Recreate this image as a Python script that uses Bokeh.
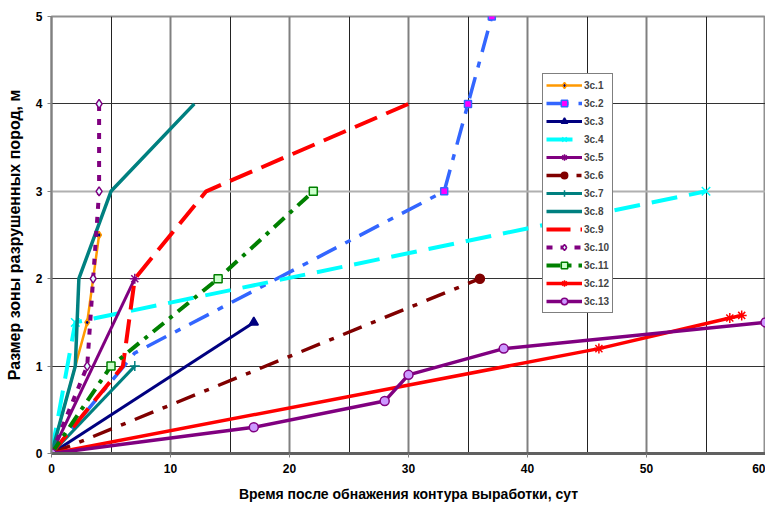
from bokeh.plotting import figure
from bokeh.models import Legend, LegendItem, Grid, FixedTicker, Range1d
from bokeh.embed import file_html
from bokeh.resources import INLINE

# ---- data ----
names = ["3c.1", "3c.2", "3c.3", "3c.4", "3c.5", "3c.6", "3c.7",
         "3c.8", "3c.9", "3c.10", "3c.11", "3c.12", "3c.13"]

x1 = [0, 3, 4];            y1 = [0, 1.5, 2.5]
x2 = [0, 7, 33, 35, 37];   y2 = [0, 1.15, 3, 4, 5]
x3 = [0, 17];              y3 = [0, 1.5]
x4 = [0, 2, 55];           y4 = [0, 1.5, 3]
x5 = [0, 7];               y5 = [0, 2]
x6 = [0, 36];              y6 = [0, 2]
x7 = [0, 7];               y7 = [0, 1]
x8 = [0, 2, 2.3, 5, 12];   y8 = [0, 1, 2, 3, 4]
x9 = [0, 6, 7, 13, 30];    y9 = [0, 1, 2, 3, 4]
x10 = [0, 3, 3.5, 4, 4];   y10 = [0, 1, 2, 3, 4]
x11 = [0, 5, 14, 22];      y11 = [0, 1, 2, 3]
x12 = [0, 46, 57, 58];     y12 = [0, 1.2, 1.55, 1.58]
x13 = [0, 17, 28, 30, 38, 60]; y13 = [0, 0.3, 0.6, 0.9, 1.2, 1.5]

xs = [x1, x2, x3, x4, x5, x6, x7, x8, x9, x10, x11, x12, x13]
ys = [y1, y2, y3, y4, y5, y6, y7, y8, y9, y10, y11, y12, y13]

x_ticks = [0, 10, 20, 30, 40, 50, 60]
y_ticks = [0, 1, 2, 3, 4, 5]

x_label = "Время после обнажения контура выработки, сут"
y_label = "Размер зоны разрушенных пород, м"

# ---- styles ----
styles = [
    dict(color="#FF9900", width=2.5, dash="solid", marker="diamond", msize=7, mfill="#000080", mline="#FF9900"),
    dict(color="#3366FF", width=3.5, dash="22 10 6 10", marker="square", msize=7, mfill="#FF00FF", mline="#3366FF"),
    dict(color="#000080", width=3, dash="solid", marker="triangle", msize=9, mfill="#000080", mline="#000080"),
    dict(color="#00FFFF", width=4, dash="26 12", marker="x", msize=12, mfill="#00FFFF", mline="#00FFFF"),
    dict(color="#800080", width=3, dash="solid", marker="asterisk", msize=10, mfill="#800080", mline="#800080"),
    dict(color="#800000", width=3.5, dash="20 10 5 10", marker="circle", msize=9, mfill="#800000", mline="#800000"),
    dict(color="#008080", width=3, dash="solid", marker="cross", msize=10, mfill="#008080", mline="#008080"),
    dict(color="#008080", width=3.5, dash="solid", marker=None),
    dict(color="#FF0000", width=4, dash="24 10", marker=None),
    dict(color="#800080", width=4, dash="6 8", marker="diamond", msize=9, mfill="#E0FFFF", mline="#800080"),
    dict(color="#008000", width=4, dash="14 7 4 7", marker="square", msize=8, mfill="#CCFFCC", mline="#008000"),
    dict(color="#FF0000", width=3.5, dash="solid", marker="asterisk", msize=10, mfill="#FF0000", mline="#FF0000"),
    dict(color="#800080", width=3.5, dash="solid", marker="circle", msize=9, mfill="#CC99FF", mline="#800080"),
]
no_marker_points = {1: [1]}  # series 3c.2: bend point has no marker

FONT = "Liberation Sans"

p = figure(frame_width=714, frame_height=437, output_backend="svg", toolbar_location=None,
           x_range=Range1d(0, 60), y_range=Range1d(0, 5),
           min_border_left=51, min_border_right=0, min_border_top=16, min_border_bottom=56)

p.xgrid.visible = False
p.ygrid.visible = False
p.background_fill_color = "white"
p.outline_line_color = "#909090"
p.outline_line_width = 2

# grid lines
p.add_layout(Grid(dimension=0, ticker=FixedTicker(ticks=[5, 15, 25, 35, 45, 55]),
                  grid_line_color="#222222", grid_line_width=1))
p.add_layout(Grid(dimension=0, ticker=FixedTicker(ticks=[10, 20, 30, 40, 50]),
                  grid_line_color="#808080", grid_line_width=2))
p.add_layout(Grid(dimension=1, ticker=FixedTicker(ticks=[1, 2, 4]),
                  grid_line_color="#333333", grid_line_width=1))
p.add_layout(Grid(dimension=1, ticker=FixedTicker(ticks=[3]),
                  grid_line_color="#B0B0B0", grid_line_width=2))

# axes
p.xaxis.ticker = FixedTicker(ticks=x_ticks)
p.yaxis.ticker = FixedTicker(ticks=y_ticks)
for ax in (p.xaxis[0], p.yaxis[0]):
    ax.major_label_text_font = FONT
    ax.major_label_text_font_style = "bold"
    ax.major_label_text_font_size = "12px"
    ax.major_label_text_color = "black"
    ax.axis_label_text_font = FONT
    ax.axis_label_text_font_style = "bold"
    ax.axis_label_text_color = "black"
    ax.minor_tick_line_color = None
    ax.major_tick_in = 0
    ax.major_tick_out = 4
    ax.major_tick_line_color = "#808080"
p.xaxis.axis_label = x_label
p.yaxis.axis_label = y_label
p.xaxis.axis_label_text_font_size = "14px"
p.yaxis.axis_label_text_font_size = "16px"
p.xaxis.axis_line_color = "#606060"
p.xaxis.axis_line_width = 3
p.yaxis.axis_line_color = "#808080"
p.yaxis.axis_line_width = 2
p.xaxis.major_label_standoff = 6
p.yaxis.major_label_standoff = 5
p.xaxis.axis_label_standoff = 10
p.yaxis.axis_label_standoff = 10

items = []
for i, (name, xv, yv, st) in enumerate(zip(names, xs, ys, styles)):
    rs = []
    r = p.line(xv, yv, line_color=st["color"], line_width=st["width"], line_dash=st["dash"])
    rs.append(r)
    if st["marker"] is not None:
        skip = no_marker_points.get(i, [])
        mx = [v for k, v in enumerate(xv) if k not in skip]
        my = [v for k, v in enumerate(yv) if k not in skip]
        m = p.scatter(mx, my, marker=st["marker"], size=st["msize"],
                      fill_color=st["mfill"], line_color=st["mline"], line_width=1.5)
        rs.append(m)
    items.append(LegendItem(label=name, renderers=rs))

legend = Legend(items=items, location=(491, 140),
                label_text_font=FONT, label_text_font_style="bold",
                label_text_font_size="10px", label_height=16, glyph_height=16,
                glyph_width=36, spacing=2, padding=3, margin=0,
                label_standoff=2,
                border_line_color="black", border_line_width=1,
                background_fill_color="white", background_fill_alpha=1)
p.add_layout(legend, "center")

open("out.html", "w").write(file_html(p, INLINE))
